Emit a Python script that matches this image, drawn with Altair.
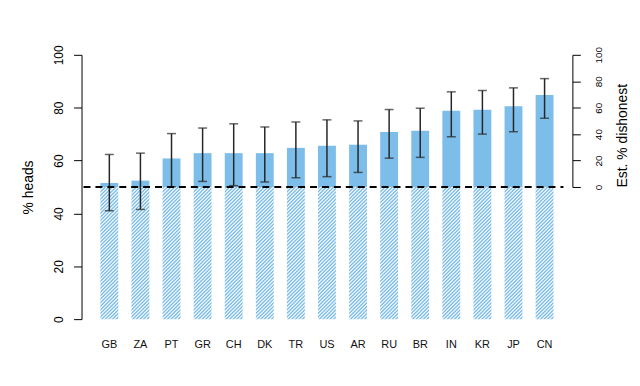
import altair as alt
import pandas as pd

countries = ["GB", "ZA", "PT", "GR", "CH", "DK", "TR", "US", "AR", "RU", "BR", "IN", "KR", "JP", "CN"]
pct_heads = [51.5, 52.4, 60.8, 62.8, 62.8, 62.8, 64.8, 65.6, 66.0, 70.8, 71.3, 78.8, 79.2, 80.5, 84.8]
ci_low = [41.0, 41.5, 50.1, 52.1, 50.5, 51.9, 53.5, 53.9, 55.5, 60.9, 61.2, 69.0, 70.0, 70.9, 76.0]
ci_high = [62.3, 62.8, 70.2, 72.3, 73.9, 72.7, 74.6, 75.4, 75.0, 79.3, 79.8, 86.0, 86.5, 87.5, 91.0]
chance = 50.0

left_ticks = [0, 20, 40, 60, 80, 100]
right_ticks = [0, 20, 40, 60, 80, 100]

df = pd.DataFrame({
    "country": countries,
    "heads": pct_heads,
    "lo": ci_low,
    "hi": ci_high,
    "zero": [0.0] * len(countries),
    "chance": [chance] * len(countries),
})
ref = pd.DataFrame({"dishonest": [0.0]})

W, H = 494, 266
BLUE = "#7dbde9"
LIGHT = "#eef6fc"
FONT = "Liberation Sans"

# hatch pattern as a striped linear gradient (45 degree "/" lines)
bw, bh = 18.0, H / 2.0
k = (bw + bh) / (bw * bw + bh * bh)
n_str = 42
stops = []
for i in range(n_str):
    stops += [
        alt.GradientStop(offset=(i + 0.0) / n_str, color=LIGHT),
        alt.GradientStop(offset=(i + 0.3) / n_str, color=BLUE),
        alt.GradientStop(offset=(i + 0.5) / n_str, color=BLUE),
        alt.GradientStop(offset=(i + 0.8) / n_str, color=LIGHT),
        alt.GradientStop(offset=(i + 1.0) / n_str, color=LIGHT),
    ]
hatch = alt.LinearGradient(gradient="linear", x1=0, y1=0, x2=k * bw, y2=k * bh, stops=stops)

xenc = alt.X("country:N", sort=countries,
             scale=alt.Scale(paddingInner=0.425, paddingOuter=0.607),
             axis=alt.Axis(title=None, domain=False, ticks=False, labelAngle=0, labelPadding=20,
                           labelFontSize=11, labelColor="#111111", labelBaseline="top", labelFont=FONT))

yscale = alt.Scale(domain=[0, 100], nice=False)
yaxis = alt.Axis(values=left_ticks, orient="left", grid=False, domainColor="black", tickColor="black",
                 tickSize=8, labelAngle=-90, labelAlign="center", labelBaseline="alphabetic",
                 labelPadding=11, labelFontSize=12, labelColor="black", labelFont=FONT,
                 title="% heads", titleFontSize=14, titleFontWeight="normal", titleColor="black",
                 titleFont=FONT, titleAngle=-90, titleAlign="center", titleBaseline="alphabetic",
                 titleX=-49, titleY=133)

base = alt.Chart(df)

hatched = base.mark_bar(color=hatch, strokeWidth=0).encode(
    x=xenc,
    y=alt.Y("chance:Q", scale=yscale, axis=yaxis),
    y2="zero:Q",
)
solid = base.mark_bar(color=BLUE, strokeWidth=0).encode(
    x=alt.X("country:N", sort=countries),
    y="heads:Q",
    y2="chance:Q",
)
err = base.mark_rule(color="#262626", strokeWidth=1.5).encode(
    x=alt.X("country:N", sort=countries),
    y="lo:Q",
    y2="hi:Q",
)
cap_hi = base.mark_tick(color="#262626", size=9, thickness=1.5, orient="horizontal").encode(
    x=alt.X("country:N", sort=countries),
    y="hi:Q",
)
cap_lo = base.mark_tick(color="#262626", size=9, thickness=1.5, orient="horizontal").encode(
    x=alt.X("country:N", sort=countries),
    y="lo:Q",
)

left = alt.layer(hatched, solid, err, cap_hi, cap_lo)

dashed = alt.Chart(ref).mark_rule(color="black", strokeWidth=2, strokeDash=[7, 5]).encode(
    x=alt.value(2),
    x2=alt.value(485),
    y=alt.Y("dishonest:Q", scale=alt.Scale(domain=[0, 100], range=[H / 2, 0], nice=False),
            axis=alt.Axis(values=right_ticks, orient="right", grid=False, domainColor="black",
                          tickColor="black", tickSize=8, labelAngle=-90, labelAlign="center",
                          labelBaseline="alphabetic", labelPadding=21, labelFontSize=10,
                          labelColor="black", labelFont=FONT,
                          title="Est. % dishonest", titleFontSize=14, titleFontWeight="normal",
                          titleColor="black", titleFont=FONT, titleAngle=-90, titleAlign="left",
                          titleBaseline="alphabetic", titleX=54, titleY=133)),
)

chart = alt.layer(left, dashed).resolve_scale(y="independent").properties(
    width=W, height=H,
    autosize=alt.AutoSizeParams(type="none"),
    padding={"left": 74, "top": 46, "right": 60, "bottom": 40},
).configure(font=FONT, view=alt.ViewConfig(stroke="transparent"))

chart.save("out.html", embed_options={"renderer": "svg", "actions": False})
